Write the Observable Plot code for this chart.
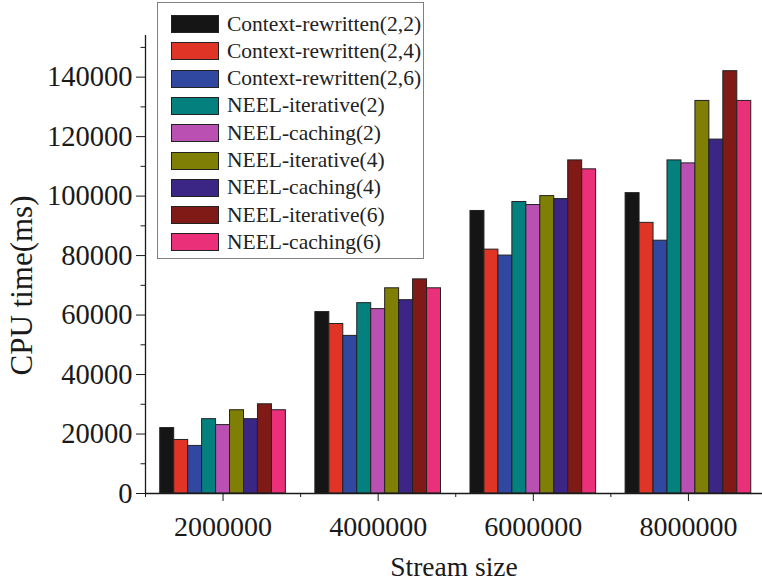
<!DOCTYPE html>
<html>
<head>
<meta charset="utf-8">
<script src="https://cdn.jsdelivr.net/npm/d3@7"></script>
<script src="https://cdn.jsdelivr.net/npm/@observablehq/plot@0.6"></script>
<style>
  html, body { margin: 0; padding: 0; background: #fff; }
  #wrap { position: relative; width: 762px; height: 583px; font-family: "Liberation Serif", "Times New Roman", serif; }
  #legend { position: absolute; left: 157px; top: 2px; width: 267px; height: 257px; border: 1px solid #808080; box-sizing: border-box; background: #fff; }
  .row { position: absolute; left: 13px; height: 20px; display: flex; align-items: center; }
  .sw { width: 48px; height: 18px; border: 1px solid #222; box-sizing: border-box; margin-right: 8px; }
  .lbl { font-size: 21.5px; color: #222; white-space: nowrap; }
</style>
</head>
<body>
<div id="wrap"><div id="legend"></div></div>
<script>
const streamSizes = [2000000, 4000000, 6000000, 8000000];
const seriesNames = [
  "Context-rewritten(2,2)", "Context-rewritten(2,4)", "Context-rewritten(2,6)",
  "NEEL-iterative(2)", "NEEL-caching(2)", "NEEL-iterative(4)",
  "NEEL-caching(4)", "NEEL-iterative(6)", "NEEL-caching(6)"
];
const seriesColors = ["#151515", "#e03426", "#3048a0", "#04807e", "#bb50b3", "#7f7f05", "#3b2585", "#801a16", "#ea3079"];
const ctx22 = [22000, 61000, 95000, 101000];
const ctx24 = [18000, 57000, 82000, 91000];
const ctx26 = [16000, 53000, 80000, 85000];
const iter2 = [25000, 64000, 98000, 112000];
const cach2 = [23000, 62000, 97000, 111000];
const iter4 = [28000, 69000, 100000, 132000];
const cach4 = [25000, 65000, 99000, 119000];
const iter6 = [30000, 72000, 112000, 142000];
const cach6 = [28000, 69000, 109000, 132000];
const seriesValues = [ctx22, ctx24, ctx26, iter2, cach2, iter4, cach4, iter6, cach6];
const yTicks = [0, 20000, 40000, 60000, 80000, 100000, 120000, 140000];
const yMinor = [10000, 30000, 50000, 70000, 90000, 110000, 130000, 150000];
const xMinor = [1000000, 3000000, 5000000, 7000000];

const barW = 180000;
const data = [];
seriesNames.forEach((name, i) => {
  streamSizes.forEach((s, j) => {
    const x1 = s + (i - 4.5) * barW;
    data.push({series: name, size: s, x1, x2: x1 + barW, value: seriesValues[i][j]});
  });
});

const font = "'Liberation Serif', 'Times New Roman', serif";
const ink = "#1a1a1a";

const chart = Plot.plot({
  width: 762,
  height: 583,
  marginLeft: 145,
  marginRight: 0,
  marginTop: 35,
  marginBottom: 90,
  style: {fontFamily: font, color: ink, background: "#fff"},
  x: {type: "linear", domain: [1000000, 8955000]},
  y: {type: "linear", domain: [0, 154000]},
  color: {domain: seriesNames, range: seriesColors},
  marks: [
    Plot.rectY(data, {x1: "x1", x2: "x2", y1: 0, y2: "value", fill: "series", stroke: "#222", strokeWidth: 1}),
    Plot.axisY({ticks: yTicks, tickSize: 9, tickPadding: 4, fontSize: 28.5, tickFormat: d => String(d), label: null, stroke: ink}),
    Plot.axisY({ticks: yMinor, tickSize: 4.5, tickFormat: () => "", label: null, stroke: ink}),
    Plot.axisX({ticks: streamSizes, tickSize: 8, tickPadding: 15, fontSize: 28, tickFormat: d => String(d), label: null, stroke: ink}),
    Plot.axisX({ticks: xMinor, tickSize: 4, tickFormat: () => "", label: null, stroke: ink}),
    Plot.ruleY([0], {stroke: ink, strokeWidth: 1.3}),
    Plot.ruleX([1000000], {y1: 0, y2: 154000, stroke: ink, strokeWidth: 1.3}),
    Plot.text(["Stream size"], {frameAnchor: "bottom", dy: 82, fontSize: 27.5, fill: ink}),
    Plot.text(["CPU time(ms)"], {frameAnchor: "left", textAnchor: "middle", dx: -123, dy: 21, rotate: -90, fontSize: 31, fill: ink})
  ]
});
document.getElementById("wrap").prepend(chart);

const legend = document.getElementById("legend");
seriesNames.forEach((name, i) => {
  const row = document.createElement("div");
  row.className = "row";
  row.style.top = (11 + i * 27.3) + "px";
  row.innerHTML = `<div class="sw" style="background:${seriesColors[i]}"></div><div class="lbl">${name}</div>`;
  legend.appendChild(row);
});
</script>
</body>
</html>
